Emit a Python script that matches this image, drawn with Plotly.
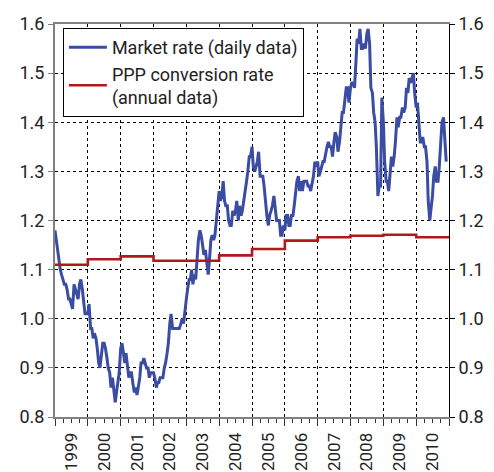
import pandas as pd
import plotly.graph_objects as go

# Semi-monthly readings (1st and 15th of each month) of the market rate
rate_1999 = [1.18, 1.16, 1.14, 1.12, 1.10, 1.09, 1.08, 1.07, 1.07, 1.06, 1.04, 1.04,
             1.03, 1.02, 1.07, 1.06, 1.05, 1.04, 1.07, 1.08, 1.06, 1.03, 1.01, 1.01]
rate_2000 = [1.01, 1.03, 0.98, 0.98, 0.96, 0.97, 0.96, 0.94, 0.91, 0.90, 0.93, 0.95,
             0.95, 0.94, 0.92, 0.90, 0.89, 0.86, 0.88, 0.85, 0.83, 0.85, 0.87, 0.89]
rate_2001 = [0.94, 0.95, 0.93, 0.91, 0.93, 0.91, 0.88, 0.89, 0.89, 0.87, 0.85, 0.86,
             0.845, 0.86, 0.88, 0.91, 0.91, 0.92, 0.91, 0.90, 0.90, 0.88, 0.89, 0.89]
rate_2002 = [0.89, 0.88, 0.86, 0.87, 0.87, 0.88, 0.88, 0.88, 0.90, 0.91, 0.93, 0.95,
             0.99, 1.01, 0.98, 0.98, 0.98, 0.98, 0.98, 0.98, 0.99, 1.00, 0.99, 1.02]
rate_2003 = [1.04, 1.06, 1.08, 1.08, 1.10, 1.07, 1.09, 1.08, 1.12, 1.16, 1.18, 1.17,
             1.15, 1.13, 1.14, 1.12, 1.09, 1.12, 1.16, 1.17, 1.16, 1.17, 1.20, 1.23]
rate_2004 = [1.26, 1.24, 1.25, 1.28, 1.24, 1.23, 1.23, 1.20, 1.19, 1.19, 1.22, 1.21,
             1.22, 1.24, 1.20, 1.23, 1.21, 1.22, 1.24, 1.25, 1.28, 1.30, 1.33, 1.33]
rate_2005 = [1.35, 1.31, 1.30, 1.31, 1.32, 1.34, 1.29, 1.29, 1.29, 1.27, 1.23, 1.21,
             1.19, 1.21, 1.22, 1.23, 1.25, 1.23, 1.20, 1.20, 1.20, 1.17, 1.17, 1.19]
rate_2006 = [1.18, 1.21, 1.21, 1.19, 1.19, 1.21, 1.21, 1.23, 1.26, 1.28, 1.29, 1.26,
             1.28, 1.26, 1.28, 1.28, 1.28, 1.27, 1.27, 1.26, 1.28, 1.29, 1.32, 1.31]
rate_2007 = [1.32, 1.29, 1.30, 1.31, 1.32, 1.32, 1.34, 1.35, 1.36, 1.35, 1.35, 1.33,
             1.36, 1.38, 1.37, 1.34, 1.36, 1.39, 1.42, 1.42, 1.45, 1.47, 1.47, 1.44]
rate_2008 = [1.47, 1.48, 1.48, 1.47, 1.52, 1.57, 1.56, 1.59, 1.55, 1.55, 1.56, 1.55,
             1.58, 1.59, 1.56, 1.47, 1.46, 1.42, 1.40, 1.35, 1.25, 1.27, 1.27, 1.45]
rate_2009 = [1.40, 1.32, 1.28, 1.28, 1.26, 1.29, 1.33, 1.31, 1.33, 1.36, 1.41, 1.39,
             1.41, 1.41, 1.43, 1.42, 1.43, 1.47, 1.46, 1.49, 1.48, 1.49, 1.50, 1.46]
rate_2010 = [1.43, 1.44, 1.39, 1.36, 1.36, 1.37, 1.35, 1.35, 1.32, 1.24, 1.20, 1.22,
             1.25, 1.29, 1.31, 1.28, 1.28, 1.31, 1.37, 1.40, 1.41, 1.36, 1.32]

market_values = (rate_1999 + rate_2000 + rate_2001 + rate_2002 + rate_2003 + rate_2004 +
                 rate_2005 + rate_2006 + rate_2007 + rate_2008 + rate_2009 + rate_2010)
market_dates = pd.date_range("1999-01-01", periods=len(market_values), freq="SMS")

# Annual PPP conversion rate
ppp_years = [1999, 2000, 2001, 2002, 2003, 2004, 2005, 2006, 2007, 2008, 2009, 2010]
ppp_values = [1.110, 1.121, 1.127, 1.118, 1.118, 1.129, 1.142, 1.159, 1.166, 1.169, 1.171, 1.166]

ppp_x = [f"{y}-01-01" for y in ppp_years] + [f"{ppp_years[-1] + 1}-01-01"]
ppp_y = ppp_values + [ppp_values[-1]]

FONT = "Roboto"
FS = 18
BLUE = "#3b4ca3"
RED = "#b0191c"
TXT = "#222222"

fig = go.Figure()
fig.add_trace(go.Scatter(x=market_dates, y=market_values, mode="lines",
                         name="Market rate (daily data)",
                         line=dict(color=BLUE, width=3)))
fig.add_trace(go.Scatter(x=ppp_x, y=ppp_y, mode="lines", line_shape="hv",
                         name="PPP conversion rate<br>(annual data)",
                         line=dict(color=RED, width=2.6)))
fig.add_trace(go.Scatter(x=ppp_x, y=ppp_y, mode="lines", yaxis="y2",
                         showlegend=False, hoverinfo="skip",
                         line=dict(color="rgba(0,0,0,0)", width=0)))

# page body adds an 8px offset, so the figure is 8px smaller and margins shifted
fig.update_layout(
    width=486, height=464,
    margin=dict(l=47, r=45, t=16, b=55, autoexpand=False),
    paper_bgcolor="white", plot_bgcolor="white",
    font=dict(family=FONT, size=FS, color=TXT),
    showlegend=True,
    legend=dict(x=0.02, y=0.99, xanchor="left", yanchor="top",
                bgcolor="white", bordercolor="black", borderwidth=1,
                font=dict(family=FONT, size=FS, color=TXT),
                itemwidth=38, tracegroupgap=0),
    xaxis=dict(type="date", range=["1999-01-01", "2011-01-01"], automargin=False,
               dtick="M12", tick0="1999-01-01",
               ticklabelmode="period", tickformat="%Y", tickangle=-90,
               ticklabelstandoff=0,
               ticks="outside", ticklen=7, tickcolor="#333333",
               showgrid=True, gridcolor="black", griddash="dot", gridwidth=1,
               showline=True, linecolor="#808080", linewidth=2, mirror=True,
               minor=dict(dtick="M3", ticks="outside", ticklen=4,
                          tickcolor="#333333", showgrid=False),
               tickfont=dict(family=FONT, size=17, color=TXT)),
    yaxis=dict(range=[0.8, 1.6], dtick=0.1, tick0=0.8, tickformat=".1f",
               automargin=False,
               ticks="outside", ticklen=5, tickcolor="#808080",
               showgrid=True, gridcolor="black", griddash="dot", gridwidth=1,
               showline=True, linecolor="#808080", linewidth=2,
               zeroline=False,
               tickfont=dict(family=FONT, size=FS, color=TXT)),
    yaxis2=dict(range=[0.8, 1.6], dtick=0.1, tick0=0.8, tickformat=".1f",
                automargin=False,
                overlaying="y", side="right",
                ticks="outside", ticklen=5, tickcolor="black",
                showgrid=False, showline=True, linecolor="black", linewidth=1,
                zeroline=False,
                tickfont=dict(family=FONT, size=FS, color=TXT)),
)

fig.write_html("out.html")
